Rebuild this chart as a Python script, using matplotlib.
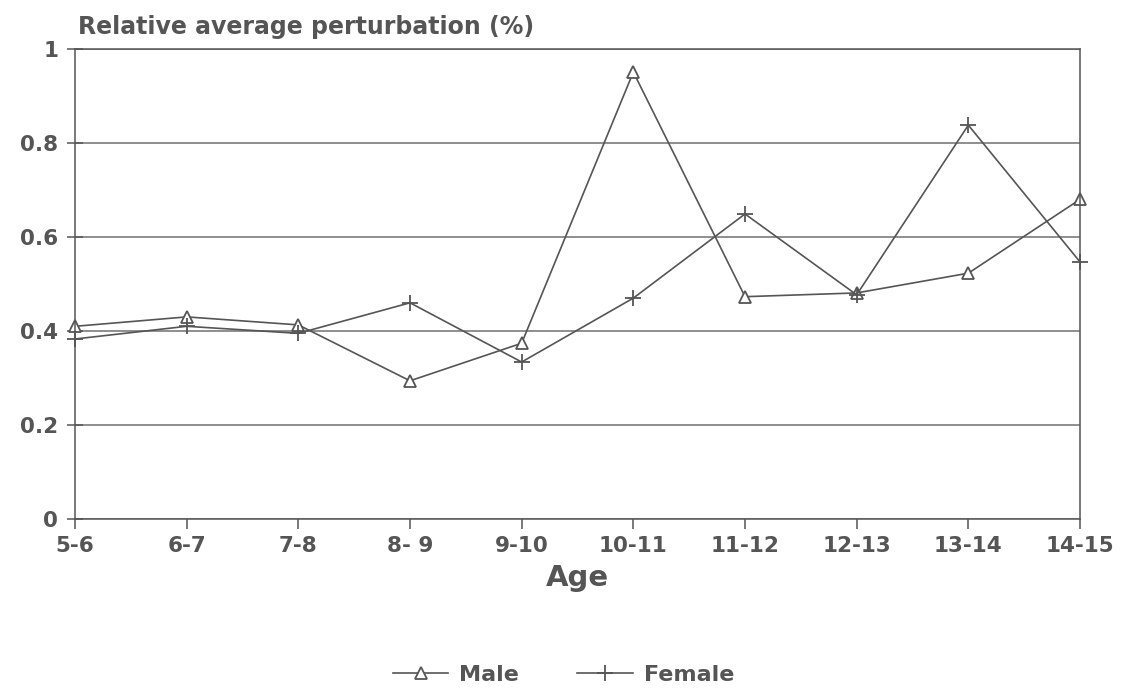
import matplotlib.pyplot as plt

ages = ["5-6", "6-7", "7-8", "8- 9", "9-10", "10-11", "11-12", "12-13", "13-14", "14-15"]
male = [0.41, 0.43, 0.413, 0.294, 0.374, 0.951, 0.473, 0.481, 0.523, 0.68]
female = [0.383, 0.41, 0.395, 0.46, 0.334, 0.47, 0.649, 0.477, 0.838, 0.547]

grey = '#555555'
plt.rcParams['font.family'] = ['DejaVu Sans']

fig = plt.figure(figsize=(11.27, 6.89), dpi=100)
ax = fig.add_axes([75 / 1127, 1 - 519 / 689, 1005 / 1127, 470 / 689])

x = list(range(len(ages)))
ax.plot(x, male, color=grey, lw=1.2, marker='^', ms=8, mfc='white', mec=grey, mew=1.3,
        label='Male', clip_on=False)
ax.plot(x, female, color=grey, lw=1.2, marker='+', ms=12, mec=grey, mew=1.3,
        label='Female', clip_on=False)

ax.set_xlim(0, len(ages) - 1)
ax.set_ylim(0, 1)
ax.set_yticks([0, 0.2, 0.4, 0.6, 0.8, 1])
ax.set_yticklabels(['0', '0.2', '0.4', '0.6', '0.8', '1'])
ax.set_xticks(x)
ax.set_xticklabels(ages)
ax.yaxis.grid(True, color='#707070', lw=1.1)
ax.set_axisbelow(True)
ax.tick_params(colors=grey, labelcolor=grey, labelsize=15.5, width=1.1)
ax.tick_params(axis='y', direction='inout', length=12, pad=6)
ax.tick_params(axis='x', direction='out', length=7, pad=5)
for lbl in ax.get_xticklabels() + ax.get_yticklabels():
    lbl.set_fontweight('bold')
for s in ax.spines.values():
    s.set_color(grey)
    s.set_linewidth(1.1)

ax.set_xlabel('Age', fontsize=21, fontweight='bold', color=grey, labelpad=6)
fig.text(78 / 1127, 1 - 27 / 689, 'Relative average perturbation (%)', fontsize=17,
         fontweight='bold', color=grey, va='center', ha='left')

fig.legend(loc='center', bbox_to_anchor=(0.5, 1 - 675 / 689), ncol=2, frameon=False,
           prop={'size': 16, 'weight': 'bold'}, labelcolor=grey, columnspacing=2.6,
           handlelength=2.5, handletextpad=0.5)

fig.savefig('out.png', dpi=100)
